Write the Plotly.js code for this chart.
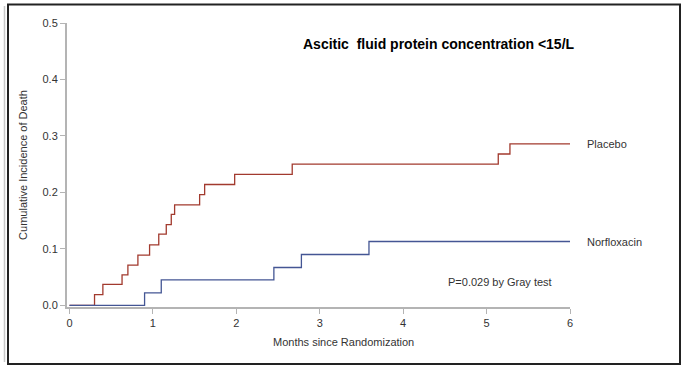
<!DOCTYPE html>
<html>
<head>
<meta charset="utf-8">
<script src="https://cdn.plot.ly/plotly-3.0.1.min.js"></script>
<style>html,body{margin:0;padding:0;background:#fff}#chart{width:691px;height:373px}</style>
</head>
<body>
<div id="chart"></div>
<script>
// Data
const placeboMonths = [0, 0.30, 0.40, 0.63, 0.70, 0.82, 0.96, 1.07, 1.16, 1.22, 1.26, 1.56, 1.62, 1.98, 2.67, 5.14, 5.28, 6];
const placeboCIF    = [0, 0.019, 0.037, 0.054, 0.071, 0.089, 0.107, 0.126, 0.143, 0.161, 0.178, 0.196, 0.214, 0.232, 0.250, 0.268, 0.286, 0.286];
const norfloxMonths = [0, 0.90, 1.10, 2.45, 2.78, 3.59, 6];
const norfloxCIF    = [0, 0.022, 0.045, 0.067, 0.090, 0.113, 0.113];
const xTicks = [0, 1, 2, 3, 4, 5, 6];
const yTicks = [0.0, 0.1, 0.2, 0.3, 0.4, 0.5];
const seriesNames = ['Placebo', 'Norfloxacin'];
const titleText = 'Ascitic&nbsp; fluid protein concentration &lt;15/L';
const pText = 'P=0.029 by Gray test';

const W = 691, H = 373;
const M = {l: 67, r: 121, t: 23, b: 66};
const pw = W - M.l - M.r, ph = H - M.t - M.b;
const xRange = [-0.03, 6], yRange = [-0.003, 0.5];
const px = v => (v - M.l) / pw;
const py = v => (H - M.b - v) / ph;
// data y -> paper y (for labels placed beyond the x range)
const dy = v => (v - yRange[0]) / (yRange[1] - yRange[0]);

const font = 'Liberation Sans, Arial, sans-serif';
const red = '#A23A2E', blue = '#445694';

const traces = [
  {x: placeboMonths, y: placeboCIF, mode: 'lines', line: {shape: 'hv', color: red, width: 1.3}, name: seriesNames[0]},
  {x: norfloxMonths, y: norfloxCIF, mode: 'lines', line: {shape: 'hv', color: blue, width: 1.3}, name: seriesNames[1]}
];

const axisCommon = {
  showgrid: false, zeroline: false, showline: true, linecolor: '#b4b4b4', linewidth: 2,
  ticks: 'outside', ticklen: 5, tickwidth: 1, tickcolor: '#b4b4b4',
  tickfont: {family: font, size: 11, color: '#333'}, fixedrange: true
};

const layout = {
  width: W, height: H, margin: M, showlegend: false,
  paper_bgcolor: '#fff', plot_bgcolor: '#fff',
  xaxis: Object.assign({}, axisCommon, {range: xRange, tickvals: xTicks, ticktext: xTicks.map(String)}),
  yaxis: Object.assign({}, axisCommon, {range: yRange, tickvals: yTicks, ticktext: yTicks.map(v => v.toFixed(1)),
    title: {text: 'Cumulative Incidence of Death', font: {family: font, size: 11, color: '#333'}, standoff: 13}}),
  annotations: [
    {xref: 'paper', yref: 'paper', x: px(439), y: py(44), text: '<b>' + titleText + '</b>', showarrow: false,
     font: {family: font, size: 14, color: '#000'}, xanchor: 'center', yanchor: 'middle'},
    {xref: 'paper', yref: 'paper', x: px(585), y: dy(placeboCIF[placeboCIF.length - 1]), text: seriesNames[0], showarrow: false,
     xanchor: 'left', yanchor: 'middle', font: {family: font, size: 11, color: '#333'}},
    {xref: 'paper', yref: 'paper', x: px(585), y: dy(norfloxCIF[norfloxCIF.length - 1]), text: seriesNames[1], showarrow: false,
     xanchor: 'left', yanchor: 'middle', font: {family: font, size: 11, color: '#333'}},
    {xref: 'paper', yref: 'paper', x: px(500), y: py(282), text: pText, showarrow: false,
     xanchor: 'center', yanchor: 'middle', font: {family: font, size: 11, color: '#333'}},
    {xref: 'paper', yref: 'paper', x: px(343), y: py(342), text: 'Months since Randomization', showarrow: false,
     xanchor: 'center', yanchor: 'middle', font: {family: font, size: 11, color: '#333'}}
  ],
  shapes: [
    {type: 'rect', xref: 'paper', yref: 'paper', x0: px(8), x1: px(680), y0: py(364), y1: py(4.5),
     line: {color: '#222', width: 2}, layer: 'below'},
    {type: 'line', xref: 'paper', yref: 'paper', x0: px(4.5), x1: px(4.5), y0: py(362), y1: py(6),
     line: {color: '#c8c8c8', width: 1.5}, layer: 'below'}
  ]
};

Plotly.newPlot('chart', traces, layout, {displayModeBar: false, staticPlot: true});
</script>
</body>
</html>
